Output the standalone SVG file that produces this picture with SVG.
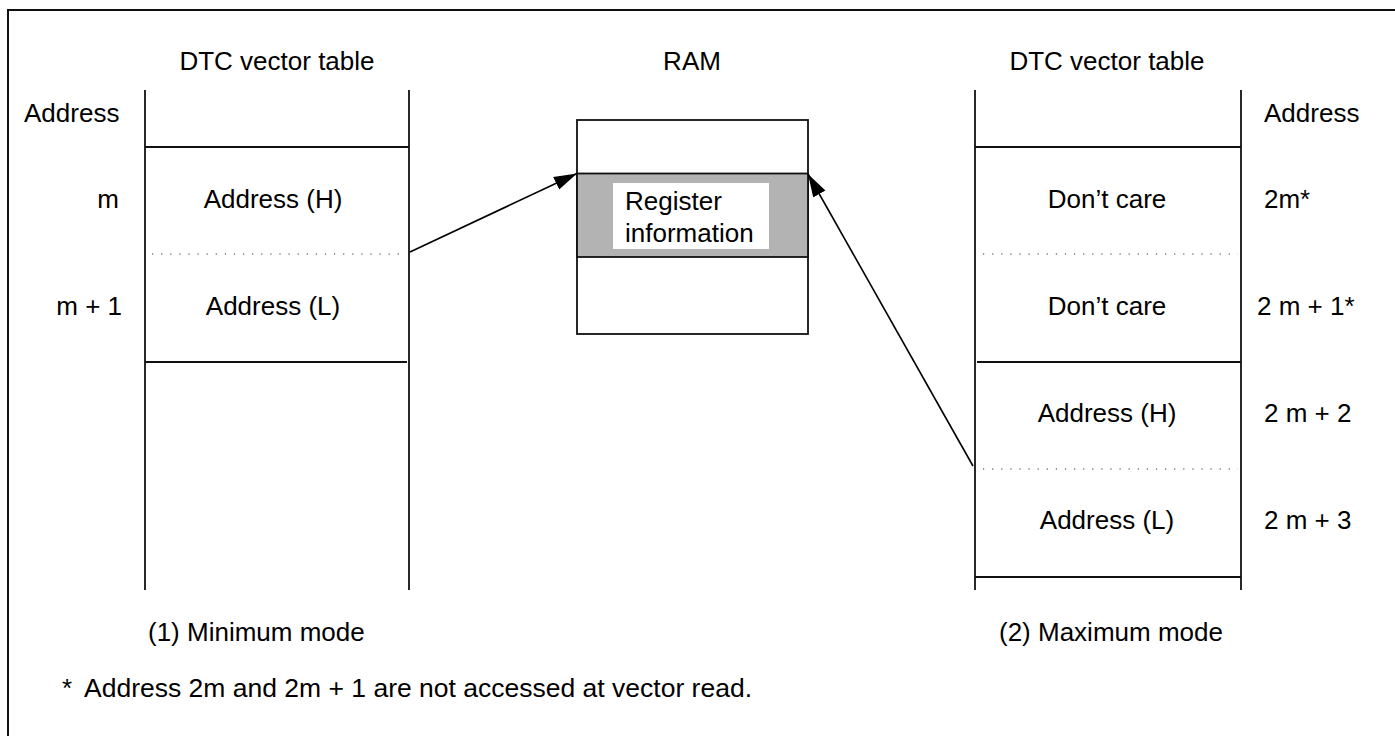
<svg xmlns="http://www.w3.org/2000/svg" width="1395" height="736" viewBox="0 0 1395 736">
<style>
  text { font-family: "Liberation Sans", Arial, sans-serif; font-size: 26px; fill: #000; }
  .c { text-anchor: middle; }
  .e { text-anchor: end; }
  .ln { stroke: #111; stroke-width: 1.8; fill: none; }
  .dot { stroke: #333; stroke-width: 1.2; stroke-dasharray: 1.2 7.9; fill: none; }
  .conn { stroke: #000; stroke-width: 1.6; fill: none; marker-end: url(#ah); }
</style>
<defs>
  <marker id="ah" markerUnits="userSpaceOnUse" markerWidth="24" markerHeight="16" refX="23" refY="7" orient="auto">
    <path d="M0,0 L23,7 L0,14 z" fill="#000"/>
  </marker>
</defs>
<rect x="0" y="0" width="1395" height="736" fill="#fff"/>
<rect x="8" y="10" width="1420" height="760" fill="none" stroke="#111" stroke-width="2"/>

<g id="left-table">
  <text class="c" x="277" y="70">DTC vector table</text>
  <text x="24" y="122">Address</text>
  <line class="ln" x1="145" y1="90" x2="145" y2="590"/>
  <line class="ln" x1="409" y1="90" x2="409" y2="590"/>
  <line class="ln" x1="145" y1="147" x2="409" y2="147"/>
  <line class="dot" x1="152" y1="254" x2="406" y2="254"/>
  <line class="ln" x1="145" y1="362" x2="407" y2="362"/>
  <text class="e" x="119" y="208">m</text>
  <text class="e" x="122" y="315">m + 1</text>
  <text class="c" x="273" y="208">Address (H)</text>
  <text class="c" x="273" y="315">Address (L)</text>
  <text x="148" y="641">(1) Minimum mode</text>
</g>

<g id="ram">
  <text class="c" x="692" y="70">RAM</text>
  <rect x="577" y="120" width="231" height="214" fill="#fff" stroke="#111" stroke-width="1.8"/>
  <rect x="577" y="173.5" width="231" height="83.5" fill="#b3b3b3" stroke="#111" stroke-width="1.8"/>
  <rect x="613" y="183" width="156" height="66" fill="#fff"/>
  <text x="625" y="210">Register</text>
  <text x="625" y="242">information</text>
</g>

<g id="right-table">
  <text class="c" x="1107" y="70">DTC vector table</text>
  <text x="1264" y="122">Address</text>
  <line class="ln" x1="975" y1="90" x2="975" y2="590"/>
  <line class="ln" x1="1241" y1="90" x2="1241" y2="590"/>
  <line class="ln" x1="975" y1="147" x2="1241" y2="147"/>
  <line class="dot" x1="983" y1="254" x2="1238" y2="254"/>
  <line class="ln" x1="977" y1="362" x2="1241" y2="362"/>
  <line class="dot" x1="983" y1="469" x2="1238" y2="469"/>
  <line class="ln" x1="975" y1="577" x2="1241" y2="577"/>
  <text class="c" x="1107" y="208">Don’t care</text>
  <text class="c" x="1107" y="315">Don’t care</text>
  <text class="c" x="1107" y="422">Address (H)</text>
  <text class="c" x="1107" y="529">Address (L)</text>
  <text x="1264" y="208">2m*</text>
  <text x="1257" y="315">2 m + 1*</text>
  <text x="1264" y="422">2 m + 2</text>
  <text x="1264" y="529">2 m + 3</text>
  <text x="999" y="641">(2) Maximum mode</text>
</g>

<g id="connectors">
  <line class="conn" x1="410" y1="252" x2="577" y2="173.5"/>
  <line class="conn" x1="973" y1="466" x2="808" y2="174"/>
</g>

<g id="footnote">
  <text x="62" y="697">*<tspan x="84" font-size="26.5">Address 2m and 2m + 1 are not accessed at vector read.</tspan></text>
</g>
</svg>
